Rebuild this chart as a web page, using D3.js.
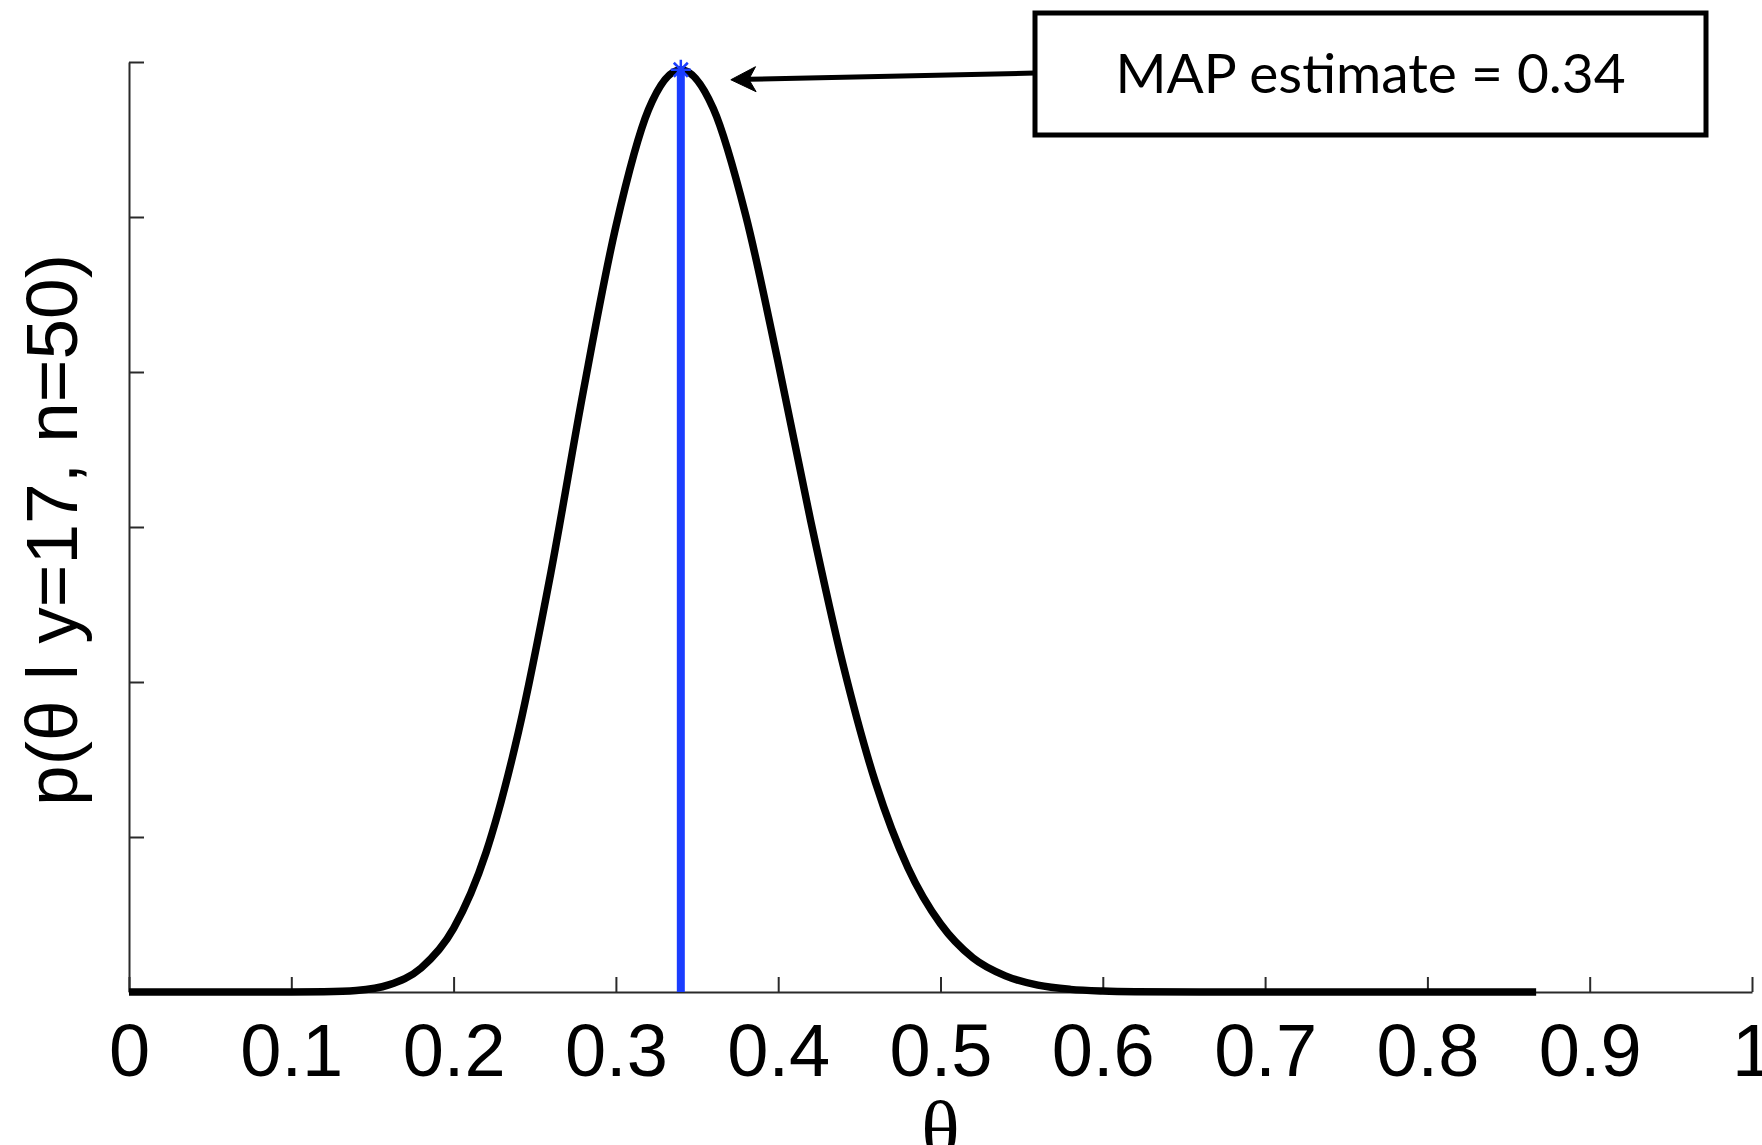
<!DOCTYPE html>
<html>
<head>
<meta charset="utf-8">
<script src="https://cdn.jsdelivr.net/npm/d3@7"></script>
<style>
  html, body { margin: 0; padding: 0; background: #fff; }
  svg { display: block; }
</style>
</head>
<body>
<svg id="chart" width="1762" height="1145"></svg>
<script>
// Posterior density of theta after y = 17 successes in n = 50 trials
const theta = [0, 0.05, 0.10, 0.12, 0.14, 0.16, 0.18, 0.20, 0.22, 0.24, 0.26, 0.28, 0.30,
               0.32, 0.34, 0.36, 0.38, 0.40, 0.42, 0.44, 0.46, 0.48, 0.50, 0.52, 0.54,
               0.56, 0.58, 0.60, 0.62, 0.66, 0.70, 0.80, 0.867];
const density = [0, 0, 0.0002, 0.002, 0.010, 0.046, 0.155, 0.41, 0.90, 1.68, 2.71, 3.88, 4.94,
                 5.69, 5.95, 5.70, 5.01, 4.06, 3.04, 2.11, 1.35, 0.80, 0.44, 0.22, 0.104,
                 0.044, 0.017, 0.006, 0.002, 0.0002, 0, 0, 0];

const mapEstimate = 0.34;
const mapDensity = 5.95;

const xTicks = [0, 0.1, 0.2, 0.3, 0.4, 0.5, 0.6, 0.7, 0.8, 0.9, 1];
const xTickLabels = ["0", "0.1", "0.2", "0.3", "0.4", "0.5", "0.6", "0.7", "0.8", "0.9", "1"];
const yTicks = [0, 1, 2, 3, 4, 5, 6];

const xLabel = "\u03B8";
const yLabel = "p(\u03B8 l y=17, n=50)";
const noteText = "MAP estimate = 0.34";

const svg = d3.select("#chart");

const x = d3.scaleLinear().domain([0, 1]).range([129, 1752]);
const y = d3.scaleLinear().domain([0, 6]).range([992, 62]);

// Axes: ticks point inward, no labels on the density axis
const xAxis = d3.axisBottom(x)
  .tickValues(xTicks)
  .tickFormat((d, i) => xTickLabels[i])
  .tickSizeInner(-15)
  .tickSizeOuter(0)
  .tickPadding(31);

const yAxis = d3.axisLeft(y)
  .tickValues(yTicks)
  .tickFormat("")
  .tickSizeInner(-15)
  .tickSizeOuter(0);

const gx = svg.append("g")
  .attr("transform", `translate(0,${y(0)})`)
  .call(xAxis);
gx.select(".domain").attr("stroke", "#2a2a2a").attr("stroke-width", 2);
gx.selectAll(".tick line").attr("stroke", "#2a2a2a").attr("stroke-width", 2);
gx.selectAll(".tick text")
  .attr("fill", "#000")
  .style("font-family", "'Liberation Sans', Arial, Helvetica, sans-serif")
  .style("font-size", "74px");

const gy = svg.append("g")
  .attr("transform", `translate(${x(0)},0)`)
  .call(yAxis);
gy.select(".domain").attr("stroke", "#2a2a2a").attr("stroke-width", 2);
gy.selectAll(".tick line").attr("stroke", "#2a2a2a").attr("stroke-width", 2);

// Axis titles
svg.append("text")
  .attr("x", x(0.5))
  .attr("y", 1157)
  .attr("text-anchor", "middle")
  .style("font-family", "'Liberation Serif', 'Times New Roman', serif")
  .style("font-size", "80px")
  .text(xLabel);

svg.append("text")
  .attr("transform", "translate(77,530) rotate(-90)")
  .attr("text-anchor", "middle")
  .style("font-family", "'Liberation Sans', Arial, Helvetica, sans-serif")
  .style("font-size", "73px")
  .text(yLabel);

// Density curve
const line = d3.line()
  .x((d, i) => x(theta[i]))
  .y(d => y(d))
  .curve(d3.curveMonotoneX);

svg.append("path")
  .datum(density)
  .attr("d", line)
  .attr("fill", "none")
  .attr("stroke", "#000")
  .attr("stroke-width", 7.5)
  .attr("stroke-linejoin", "round");

// MAP estimate stem with asterisk marker
const blue = "#1a3dff";
svg.append("line")
  .attr("x1", x(mapEstimate)).attr("x2", x(mapEstimate))
  .attr("y1", y(0)).attr("y2", y(mapDensity))
  .attr("stroke", blue)
  .attr("stroke-width", 8);

const star = svg.append("g")
  .attr("transform", `translate(${x(mapEstimate)},${y(mapDensity)})`)
  .attr("stroke", blue)
  .attr("stroke-width", 2.5);
const r = 10;
[[-r, 0, r, 0], [0, -r, 0, r], [-r * 0.7, -r * 0.7, r * 0.7, r * 0.7], [-r * 0.7, r * 0.7, r * 0.7, -r * 0.7]]
  .forEach(s => star.append("line").attr("x1", s[0]).attr("y1", s[1]).attr("x2", s[2]).attr("y2", s[3]));

// Annotation box and arrow pointing at the peak
const box = { x: 1035, y: 13, w: 671, h: 122 };
svg.append("rect")
  .attr("x", box.x).attr("y", box.y)
  .attr("width", box.w).attr("height", box.h)
  .attr("fill", "#fff")
  .attr("stroke", "#000")
  .attr("stroke-width", 5);

svg.append("text")
  .attr("x", box.x + box.w / 2)
  .attr("y", 93)
  .attr("text-anchor", "middle")
  .style("font-family", "Lato, 'Open Sans', sans-serif")
  .style("font-size", "55px")
  .text(noteText);

const tip = [x(mapEstimate) + 50, y(mapDensity) + 10];
const tail = [box.x, 73];
const ang = Math.atan2(tail[1] - tip[1], tail[0] - tip[0]);
const headLen = 25, headHalf = 12.5, notch = 18;
const rot = (dx, dy) => [tip[0] + dx * Math.cos(ang) - dy * Math.sin(ang),
                         tip[1] + dx * Math.sin(ang) + dy * Math.cos(ang)];
svg.append("line")
  .attr("x1", tail[0]).attr("y1", tail[1])
  .attr("x2", rot(notch, 0)[0]).attr("y2", rot(notch, 0)[1])
  .attr("stroke", "#000")
  .attr("stroke-width", 5);
svg.append("path")
  .attr("d", d3.line()([tip, rot(headLen, -headHalf), rot(notch, 0), rot(headLen, headHalf)]) + "Z")
  .attr("fill", "#000")
  .attr("stroke", "#000")
  .attr("stroke-width", 1);
</script>
</body>
</html>
